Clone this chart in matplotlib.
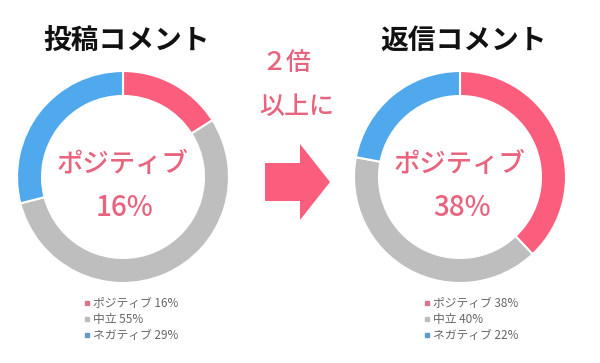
import matplotlib.pyplot as plt
from matplotlib.patches import FancyArrow

plt.rcParams['font.family'] = ['Noto Sans CJK JP', 'DejaVu Sans']

labels = ['ポジティブ', '中立', 'ネガティブ']
post_values = [16, 55, 29]
reply_values = [38, 40, 22]
titles = ['投稿コメント', '返信コメント']
colors = ['#FB5E7C', '#BEBEBE', '#4FA9EC']
legend_colors = ['#D9758A', '#BDBDBD', '#5E9CCB']
note = ['２倍', '以上に']

H = 363
pink_text = '#E8637D'
fig = plt.figure(figsize=(6, 3.63), dpi=100)
ax = fig.add_axes([0, 0, 1, 1])

def donut(values, cx, cy, title, lx):
    ax.pie(values, colors=colors, startangle=90, counterclock=False,
           radius=106, center=(cx, H - cy), frame=True,
           wedgeprops=dict(width=25, edgecolor='white', linewidth=1.5))
    ax.text(cx + 4, H - 41, title, ha='center', va='center', fontsize=20,
            fontweight='bold', color='#111111')
    ax.text(cx, H - 165, labels[0], ha='center', va='center', fontsize=19,
            fontweight='medium', color=pink_text)
    ax.text(cx + 2, H - 208, f'{values[0]}%', ha='center', va='center',
            fontsize=20, fontweight='medium', color=pink_text)
    # legend
    for i, (lab, v) in enumerate(zip(labels, values)):
        y = H - (303 + i * 16)
        ax.plot(lx, y, 's', ms=3.5, color=legend_colors[i])
        ax.text(lx + 6, y, f'{lab} {v}%', ha='left', va='center',
                fontsize=8.5, color='#666666')

donut(post_values, 123, 177, titles[0], 87)
donut(reply_values, 460, 177, titles[1], 427)

# middle annotation
ax.text(261, H - 63, note[0], ha='left', va='center', fontsize=18,
        fontweight='medium', color=pink_text)
ax.text(297, H - 107, note[1], ha='center', va='center', fontsize=18,
        fontweight='medium', color=pink_text)
ax.add_patch(FancyArrow(265, H - 182, 65, 0, width=38, head_width=76,
                        head_length=30, length_includes_head=True,
                        color='#FB5E7C', lw=0))

ax.set_xlim(0, 600)
ax.set_ylim(0, H)
ax.set_aspect('equal')
ax.axis('off')

plt.savefig('out.png', dpi=100)
